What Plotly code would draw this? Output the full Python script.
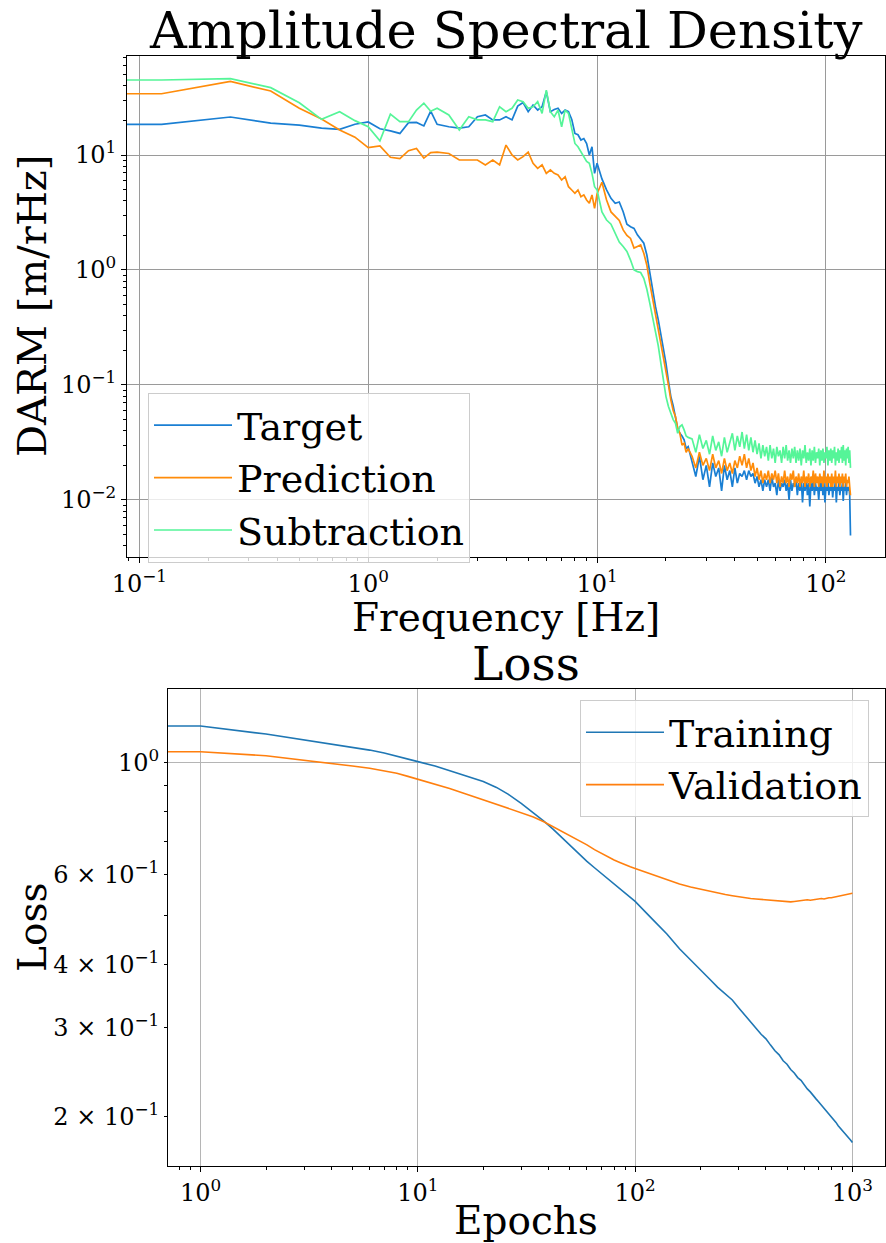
import numpy as np
import plotly.graph_objects as go

# ---------------- data: amplitude spectral density ----------------
freq = np.concatenate([
    np.arange(0, 2.001, 0.125),
    np.arange(2.25, 10.001, 0.25),
    np.arange(10.5, 25.001, 0.5),
    np.arange(26, 128.5, 1.0),
])

target_low = [18.5, 18.5, 21.4, 18.9, 18.2, 17.1, 16.7, 18.5, 19.4, 16.9, 16.2, 15.4, 19.1, 19.2, 17.9, 24.1, 18.5]
target_mid = [17.6, 17.1, 17.6, 21.5, 22.3, 20.2, 20.2, 21.5, 20.2, 26.6, 28.6, 23.8, 27.2, 24.6, 26.3, 35.5,
              23.8, 24.9, 25.5, 23.0, 24.6, 23.8, 20.4, 15.4, 15.0, 13.5, 13.9, 12.6, 10.0, 11.8, 6.93, 8.47]
target_tr = [6.2, 4.97, 4.2, 3.80, 3.9, 3.21, 2.5, 2.38, 2.3, 2.02, 1.85, 1.71, 1.35, 0.935, 0.66,
             0.48, 0.37, 0.281, 0.21, 0.154, 0.108, 0.0792, 0.066, 0.0531, 0.042, 0.038, 0.036, 0.0333, 0.028, 0.0291]
target_hi = [0.022, 0.016, 0.024, 0.015, 0.020, 0.013, 0.021, 0.016, 0.019, 0.012,
             0.020, 0.015, 0.018, 0.013, 0.019, 0.014, 0.017, 0.016, 0.018, 0.015,
             0.018, 0.016, 0.017, 0.014, 0.016, 0.013, 0.015, 0.012, 0.015, 0.013,
             0.015, 0.012, 0.016, 0.013, 0.014, 0.011, 0.015, 0.012, 0.014, 0.013,
             0.015, 0.012, 0.014, 0.010, 0.015, 0.012, 0.014, 0.013, 0.015, 0.011,
             0.014, 0.012, 0.015, 0.0095, 0.014, 0.012, 0.015, 0.011, 0.014, 0.0088,
             0.014, 0.012, 0.015, 0.011, 0.014, 0.012, 0.013, 0.010, 0.014, 0.012,
             0.015, 0.011, 0.014, 0.0095, 0.013, 0.012, 0.015, 0.011, 0.013, 0.012,
             0.014, 0.0105, 0.013, 0.012, 0.015, 0.0095, 0.013, 0.012, 0.014, 0.011,
             0.013, 0.012, 0.014, 0.0098, 0.013, 0.012, 0.014, 0.011, 0.013, 0.012,
             0.013, 0.011, 0.0049]

prediction_low = [34.1, 34.1, 43.7, 36.0, 25.5, 20.6, 16.5, 14.3, 11.6, 12.0, 9.55, 9.29, 10.9, 11.4, 9.4, 10.5, 10.6]
prediction_mid = [10.3, 9.05, 9.05, 9.05, 8.2, 9.05, 8.2, 12.2, 10.0, 9.05, 9.68, 10.6, 8.47, 7.65, 8.2, 6.93,
                  7.41, 6.93, 6.7, 6.06, 6.48, 5.30, 4.96, 4.64, 4.96, 4.34, 4.5, 4.06, 3.8, 4.5, 3.43, 4.6]
prediction_tr = [5.8, 4.06, 3.2, 2.91, 2.7, 2.23, 2.0, 1.88, 1.55, 1.60, 1.65, 1.40, 1.1, 0.766, 0.56,
                 0.42, 0.32, 0.246, 0.18, 0.135, 0.1, 0.0741, 0.06, 0.0531, 0.042, 0.038, 0.03, 0.0311, 0.026, 0.028]
prediction_hi = [0.024, 0.019, 0.026, 0.020, 0.023, 0.018, 0.025, 0.019, 0.022, 0.017,
                 0.023, 0.018, 0.021, 0.017, 0.022, 0.019, 0.024, 0.020, 0.025, 0.019,
                 0.023, 0.018, 0.021, 0.016, 0.019, 0.015, 0.018, 0.014, 0.017, 0.015,
                 0.018, 0.014, 0.017, 0.015, 0.018, 0.014, 0.017, 0.013, 0.016, 0.014,
                 0.018, 0.014, 0.016, 0.013, 0.017, 0.015, 0.018, 0.013, 0.016, 0.014,
                 0.017, 0.013, 0.016, 0.014, 0.018, 0.013, 0.016, 0.014, 0.017, 0.013,
                 0.016, 0.014, 0.018, 0.013, 0.017, 0.014, 0.016, 0.013, 0.017, 0.014,
                 0.016, 0.013, 0.018, 0.014, 0.016, 0.013, 0.017, 0.014, 0.016, 0.013,
                 0.017, 0.013, 0.016, 0.014, 0.018, 0.013, 0.016, 0.014, 0.017, 0.013,
                 0.016, 0.014, 0.017, 0.013, 0.016, 0.014, 0.017, 0.013, 0.015, 0.014,
                 0.016, 0.013, 0.011]

subtraction_low = [44.9, 44.9, 46.1, 38.5, 28.5, 20.4, 23.8, 19.9, 17.6, 13.3, 22.7, 19.5, 19.5, 24.6, 28.2, 24.0, 25.5]
subtraction_mid = [22.3, 16.5, 21.5, 20.2, 20.2, 19.5, 26.3, 23.8, 25.5, 30.1, 29.1, 25.5, 26.3, 29.1, 23.0, 36.7,
                   23.8, 21.5, 24.6, 17.6, 24.6, 23.0, 16.5, 12.6, 11.8, 10.7, 9.68, 8.78, 8.47, 6.93, 5.30, 4.96]
subtraction_tr = [3.2, 2.72, 2.5, 2.08, 1.75, 1.60, 1.45, 1.22, 1.0, 0.968, 0.95, 0.847, 0.68, 0.513, 0.38,
                  0.301, 0.22, 0.154, 0.11, 0.0792, 0.065, 0.0568, 0.05, 0.0465, 0.038, 0.0435, 0.045, 0.0407, 0.036, 0.035]
subtraction_hi = [0.034, 0.026, 0.037, 0.028, 0.033, 0.025, 0.036, 0.027, 0.032, 0.024,
                  0.035, 0.026, 0.031, 0.038, 0.027, 0.036, 0.029, 0.039, 0.028, 0.037,
                  0.027, 0.035, 0.026, 0.033, 0.025, 0.031, 0.023, 0.030, 0.024, 0.029,
                  0.022, 0.030, 0.023, 0.028, 0.021, 0.029, 0.024, 0.027, 0.021, 0.029,
                  0.023, 0.030, 0.022, 0.027, 0.021, 0.028, 0.023, 0.029, 0.021, 0.027,
                  0.022, 0.028, 0.020, 0.027, 0.023, 0.030, 0.021, 0.026, 0.022, 0.028,
                  0.020, 0.027, 0.022, 0.029, 0.021, 0.026, 0.023, 0.028, 0.020, 0.027,
                  0.022, 0.028, 0.021, 0.026, 0.023, 0.029, 0.020, 0.027, 0.022, 0.028,
                  0.021, 0.027, 0.023, 0.029, 0.020, 0.026, 0.022, 0.028, 0.021, 0.027,
                  0.023, 0.029, 0.021, 0.030, 0.022, 0.027, 0.020, 0.028, 0.023, 0.029,
                  0.021, 0.027, 0.019]

target = target_low + target_mid + target_tr + target_hi
prediction = prediction_low + prediction_mid + prediction_tr + prediction_hi
subtraction = subtraction_low + subtraction_mid + subtraction_tr + subtraction_hi

# ---------------- data: loss ----------------
epochs = [0, 1, 2, 3, 4, 5, 6, 7, 8, 9, 10, 12, 14, 16, 18, 20, 23, 26, 30, 34, 38, 42, 46, 50,
          55, 60, 65, 70, 75, 80, 85, 90, 95, 100] + list(range(120, 1001, 20))
train_loss = [1.180, 1.180, 1.138, 1.108, 1.088, 1.072, 1.058, 1.044, 1.030, 1.016, 1.004, 0.984, 0.964,
              0.947, 0.932, 0.917, 0.893, 0.866, 0.830, 0.796, 0.766, 0.738, 0.711, 0.686, 0.661, 0.638,
              0.620, 0.604, 0.589, 0.575, 0.562, 0.551, 0.541, 0.532,
              0.491, 0.459, 0.429, 0.408, 0.391, 0.374, 0.360, 0.350, 0.340, 0.328, 0.318, 0.308, 0.299,
              0.291, 0.285, 0.277, 0.270, 0.265, 0.258, 0.254, 0.248, 0.244, 0.239, 0.236, 0.231, 0.227,
              0.224, 0.220, 0.217, 0.214, 0.211, 0.208, 0.205, 0.202, 0.200, 0.197, 0.195, 0.192, 0.190,
              0.188, 0.186, 0.184, 0.182, 0.180, 0.178]
val_loss = [1.050, 1.050, 1.031, 1.011, 0.996, 0.984, 0.974, 0.963, 0.952, 0.939, 0.927, 0.907, 0.889,
            0.872, 0.857, 0.844, 0.827, 0.812, 0.797, 0.781, 0.764, 0.747, 0.731, 0.717, 0.702, 0.688,
            0.673, 0.661, 0.651, 0.642, 0.635, 0.628, 0.623, 0.618,
            0.601, 0.587, 0.576, 0.568, 0.562, 0.557, 0.553, 0.549, 0.546, 0.543, 0.541, 0.539, 0.538,
            0.537, 0.536, 0.535, 0.534, 0.533, 0.532, 0.532, 0.531, 0.532, 0.533, 0.533, 0.534, 0.536,
            0.535, 0.536, 0.537, 0.538, 0.539, 0.538, 0.540, 0.541, 0.541, 0.542, 0.543, 0.544, 0.545,
            0.546, 0.547, 0.548, 0.549, 0.551, 0.552]

# ---------------- tick labels ----------------
asd_xticks = [0.1, 1, 10, 100]
asd_xticktext = ["10<sup>\u22121</sup>", "10<sup>0</sup>", "10<sup>1</sup>", "10<sup>2</sup>"]
asd_yticks = [0.01, 0.1, 1, 10]
asd_yticktext = ["10<sup>\u22122</sup>", "10<sup>\u22121</sup>", "10<sup>0</sup>", "10<sup>1</sup>"]
loss_xticks = [1, 10, 100, 1000]
loss_xticktext = ["10<sup>0</sup>", "10<sup>1</sup>", "10<sup>2</sup>", "10<sup>3</sup>"]
loss_yticks = [0.2, 0.3, 0.4, 0.6, 1.0]
loss_yticktext = ["2 \u00d7 10<sup>\u22121</sup>", "3 \u00d7 10<sup>\u22121</sup>",
                  "4 \u00d7 10<sup>\u22121</sup>", "6 \u00d7 10<sup>\u22121</sup>",
                  "10<sup>0</sup>"]

# ---------------- figure ----------------
W, H = 886, 1243
FONT = "DejaVu Serif"
def fx(p):
    return p / W
def fy(p):
    return 1 - p / H

def minor_vals(lo, hi):
    out = []
    for d in range(lo, hi + 1):
        for k in range(2, 10):
            out.append(k * 10.0 ** d)
    return out

freq_plot = np.where(freq > 0, freq, 1e-8)
epochs_arr = np.array(epochs, dtype=float)
epochs_plot = np.where(epochs_arr > 0, epochs_arr, 1e-8)

fig = go.Figure()
asd_series = [("Target", target, "#1a7fd3"), ("Prediction", prediction, "#ff8c0a"),
              ("Subtraction", subtraction, "#55f598")]
for name, vals, color in asd_series:
    fig.add_trace(go.Scatter(x=freq_plot, y=vals, mode="lines", name=name,
                             line=dict(color=color, width=1.7), xaxis="x", yaxis="y", legend="legend"))

loss_series = [("Training", train_loss, "#1f77b4"), ("Validation", val_loss, "#ff7f0e")]
for name, vals, color in loss_series:
    fig.add_trace(go.Scatter(x=epochs_plot, y=vals, mode="lines", name=name,
                             line=dict(color=color, width=1.6), xaxis="x2", yaxis="y2", legend="legend2"))

tickfont = dict(family=FONT, size=24, color="black")
common = dict(type="log", showline=True, linecolor="black", linewidth=1, mirror=True,
              ticks="outside", ticklen=5, tickwidth=1, tickcolor="black", tickfont=tickfont,
              zeroline=False, tickmode="array", automargin=False)

fig.update_layout(
    width=W, height=H, autosize=False,
    margin=dict(l=0, r=0, t=0, b=0, pad=0),
    paper_bgcolor="white", plot_bgcolor="white",
    font=dict(family=FONT, color="black"),
    xaxis=dict(common, domain=[fx(127), fx(885)], anchor="y", range=[-1.054, 2.258],
               tickvals=asd_xticks, ticktext=asd_xticktext, showgrid=True, gridcolor="#9a9a9a", gridwidth=1,
               minor=dict(tickvals=minor_vals(-2, 2), ticks="outside", ticklen=3, tickcolor="black", showgrid=False)),
    yaxis=dict(common, domain=[fy(557), fy(56)], anchor="x", range=[-2.496, 1.861],
               tickvals=asd_yticks, ticktext=asd_yticktext, showgrid=True, gridcolor="#9a9a9a", gridwidth=1,
               minor=dict(tickvals=minor_vals(-3, 1), ticks="outside", ticklen=3, tickcolor="black", showgrid=False)),
    xaxis2=dict(common, domain=[fx(168), fx(885)], anchor="y2", range=[-0.15, 3.15],
                tickvals=loss_xticks, ticktext=loss_xticktext, showgrid=True, gridcolor="#b5b5b5", gridwidth=1,
                minor=dict(tickvals=minor_vals(-1, 3), ticks="outside", ticklen=3, tickcolor="black", showgrid=False)),
    yaxis2=dict(common, domain=[fy(1166), fy(689)], anchor="x2", range=[-0.796, 0.145],
                tickvals=loss_yticks, ticktext=loss_yticktext, showgrid=False, ticklen=3,
                tickfont=dict(family=FONT, size=24, color="black"),
                minor=dict(tickvals=[0.5, 0.7, 0.8, 0.9], ticks="outside", ticklen=3, tickcolor="black", showgrid=False)),
    legend=dict(x=fx(148), y=fy(393), xanchor="left", yanchor="top", itemwidth=78,
                bgcolor="rgba(255,255,255,0.8)", bordercolor="#cccccc", borderwidth=1,
                font=dict(family=FONT, size=38, color="black"), tracegroupgap=0),
    legend2=dict(x=fx(580), y=fy(700), xanchor="left", yanchor="top", itemwidth=78,
                 bgcolor="rgba(255,255,255,0.8)", bordercolor="#cccccc", borderwidth=1,
                 font=dict(family=FONT, size=38, color="black"), tracegroupgap=0),
    showlegend=True,
)

# horizontal major grid line at 10^0 on the loss axis (the only major y tick there)
fig.add_shape(type="line", xref="x2 domain", yref="y2", x0=0, x1=1, y0=1.0, y1=1.0,
              line=dict(color="#b5b5b5", width=1), layer="below")

ann = [
    dict(text="Amplitude Spectral Density", x=fx(506), y=fy(30), size=51),
    dict(text="Frequency [Hz]", x=fx(506), y=fy(617), size=39),
    dict(text="Loss", x=fx(526), y=fy(663), size=47),
    dict(text="Epochs", x=fx(526), y=fy(1220), size=39),
]
for a in ann:
    fig.add_annotation(text=a["text"], x=a["x"], y=a["y"], xref="paper", yref="paper",
                       xanchor="center", yanchor="middle", showarrow=False,
                       font=dict(family=FONT, size=a["size"], color="black"))
fig.add_annotation(text="DARM [m/rHz]", x=fx(32), y=fy(306), xref="paper", yref="paper",
                   xanchor="center", yanchor="middle", showarrow=False, textangle=-90,
                   font=dict(family=FONT, size=40, color="black"))
fig.add_annotation(text="Loss", x=fx(32), y=fy(927), xref="paper", yref="paper",
                   xanchor="center", yanchor="middle", showarrow=False, textangle=-90,
                   font=dict(family=FONT, size=39, color="black"))

fig.write_html("out.html", config={"responsive": False},
               post_script="document.body.style.margin='0';document.body.style.overflow='hidden';")
